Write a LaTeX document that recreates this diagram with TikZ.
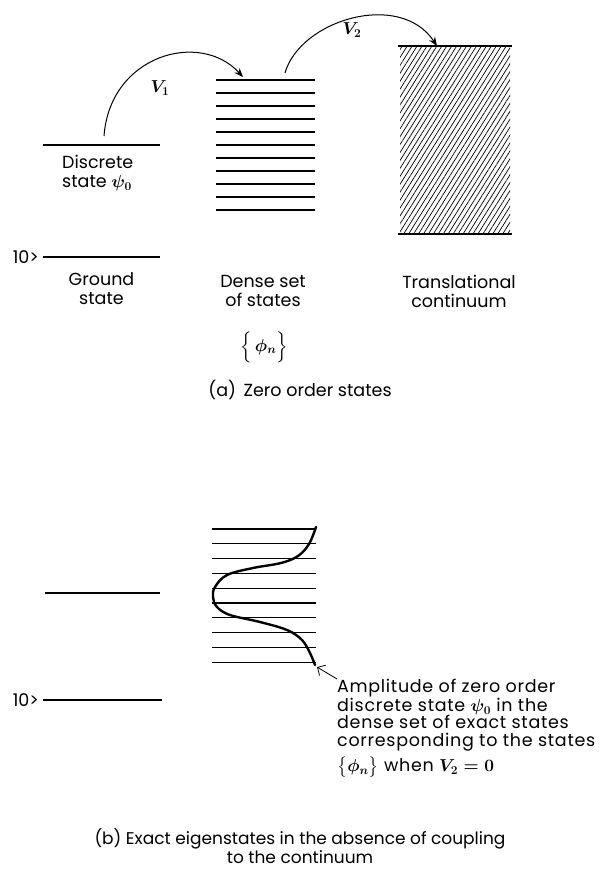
\documentclass[tikz,border=0pt]{standalone}
\usepackage{amsmath}
\usepackage{fontspec}
\setmainfont{Poppins}
\usetikzlibrary{arrows.meta,positioning,patterns.meta,calc}

\begin{document}
\begin{tikzpicture}[x=1pt,y=-1pt,>={Stealth[length=9pt,width=7pt]},node distance=6pt,
level/.style={line width=1.2pt},
lbl/.style={align=center,inner sep=0pt,font=\fontsize{17.5}{19}\selectfont\boldmath},
coupling/.style={->,line width=1pt},
amplitude/.style={line width=2.4pt,line cap=round}]
\useasboundingbox (0,0) rectangle (606,872);
% (a) zero order states
\coordinate (dscL) at (43,145); \coordinate (dscR) at (160,145);
\coordinate (gndL) at (43,257); \coordinate (gndR) at (160,257);
\coordinate (gndM) at ($(gndL)!0.5!(gndR)$);
\draw[level] (dscL) -- (dscR);
\draw[level] (gndL) -- (gndR);
\node[lbl,left=4pt of gndL] (ketA) {10>};
\node[lbl,align=left,anchor=north west] (dsclbl) at (62,155) {Discrete\\state $\psi_0$};
\node[lbl,below=15pt of gndM] (gndlbl) {Ground\\state};
\foreach \i in {0,...,10}
  \draw[level] (216,{80+13*\i}) -- (315,{80+13*\i});
\node[lbl] (denselbl) at (263,291) {Dense set\\of states};
\node[lbl] (phiA) at (264,347) {$\Bigl\{\,\phi_n\Bigr\}$};
\fill[pattern={Lines[angle=58,distance=4.2pt,line width=0.7pt]}] (400,46) rectangle (510,234);
\coordinate (ctop) at (437,46);
\draw[level,line width=1.6pt] (398,46) -- (512,46);
\draw[level,line width=1.6pt] (398,234) -- (512,234);
\node[lbl] (contlbl) at (459,291) {Translational\\continuum};
\coordinate (v1from) at (104,136); \coordinate (v1to) at (243,77);
\coordinate (v2from) at (285,73);
\draw[coupling] (v1from) .. controls (110,55) and (200,30) .. (v1to);
\draw[coupling] (v2from) .. controls (300,20) and (400,-10) .. (ctop);
\node[lbl] (v1lbl) at (160,88) {$V_1$};
\node[lbl] (v2lbl) at (352,30) {$V_2$};
\node[lbl] (capA) at (300,390) {(a)\, Zero order states};
% (b) exact eigenstates
\coordinate (dsbL) at (45,593); \coordinate (dsbR) at (160,593);
\coordinate (gnbL) at (43,700); \coordinate (gnbR) at (162,700);
\draw[level] (dsbL) -- (dsbR);
\draw[level] (gnbL) -- (gnbR);
\node[lbl,left=4pt of gnbL] (ketB) {10>};
\foreach \i in {0,...,9}
  \draw[level] (212,{529+14.8*\i}) -- (316,{529+14.8*\i});
\draw[amplitude] plot[smooth,tension=0.6] coordinates {(316,527) (309,544) (298,556) (281,563) (253,568) (227,575) (215,587) (213,597) (217,607) (230,615) (260,622) (287,630) (302,640) (310,653) (315,665)};
\coordinate (ampEnd) at (317,667);
\node[lbl,align=left,anchor=north west,font=\fontsize{17.5}{17.3}\selectfont\boldmath\addfontfeatures{LetterSpace=4}] (ampnote) at (337,679)
  {Amplitude of zero order\\discrete state $\psi_0$ in the\\dense set of exact states\\corresponding to the states\\[5pt]$\bigl\{\phi_n\bigr\}$\ when $V_2=0$};
\draw[->,line width=0.8pt,>={Straight Barb[length=6pt]}] (ampnote.north west) -- (ampEnd);
\node[lbl,font=\fontsize{17}{18.5}\selectfont] (capB) at (300,846) {(b) Exact eigenstates in the absence of coupling\\to the continuum};
\end{tikzpicture}
\end{document}
